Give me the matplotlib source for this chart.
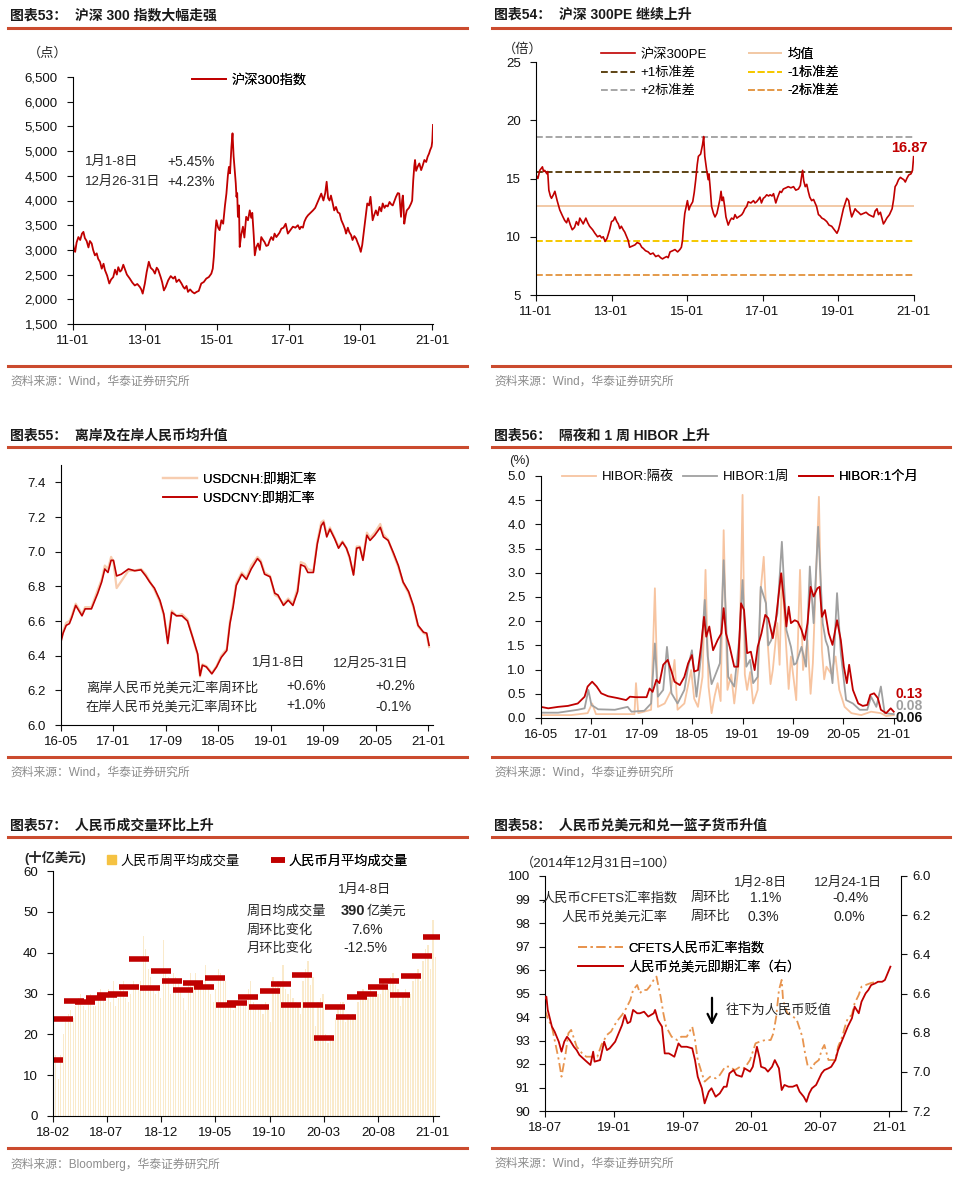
import numpy as np
import pandas as pd
import matplotlib
matplotlib.use('Agg')
import matplotlib.pyplot as plt
from matplotlib.lines import Line2D
from matplotlib.patches import Patch

plt.rcParams['font.family'] = ['Liberation Sans', 'Noto Sans CJK SC']
plt.rcParams['axes.unicode_minus'] = False

# ---------------- data ----------------
# 图表53 沪深300指数 (decimal year, points)
hs300_t = [2011.00, 2011.03, 2011.06, 2011.10, 2011.15, 2011.20, 2011.25, 2011.29, 2011.33, 2011.38,
           2011.43, 2011.47, 2011.52, 2011.56, 2011.61, 2011.66, 2011.70, 2011.75, 2011.80, 2011.85,
           2011.89, 2011.95, 2012.01, 2012.06, 2012.12, 2012.17, 2012.22, 2012.26, 2012.31, 2012.35,
           2012.40, 2012.44, 2012.50, 2012.58, 2012.65, 2012.72, 2012.79, 2012.86, 2012.90, 2012.94,
           2013.00, 2013.05, 2013.11, 2013.16, 2013.23, 2013.28, 2013.33, 2013.37, 2013.44, 2013.48,
           2013.53, 2013.58, 2013.65, 2013.72, 2013.79, 2013.84, 2013.88, 2013.95, 2014.02, 2014.07,
           2014.11, 2014.16, 2014.20, 2014.26, 2014.32, 2014.38, 2014.44, 2014.50, 2014.57, 2014.64,
           2014.71, 2014.78, 2014.85, 2014.89, 2014.92, 2014.96, 2014.99, 2015.04, 2015.08, 2015.13,
           2015.18, 2015.23, 2015.27, 2015.31, 2015.34, 2015.37, 2015.41, 2015.44, 2015.47, 2015.50,
           2015.53, 2015.55, 2015.57, 2015.59, 2015.62, 2015.64, 2015.68, 2015.73, 2015.77, 2015.82,
           2015.87, 2015.92, 2015.96, 2015.99, 2016.03, 2016.06, 2016.10, 2016.15, 2016.20, 2016.24,
           2016.29, 2016.33, 2016.38, 2016.43, 2016.48, 2016.52, 2016.57, 2016.61, 2016.66, 2016.70,
           2016.75, 2016.80, 2016.86, 2016.92, 2016.98, 2017.05, 2017.12, 2017.19, 2017.26, 2017.31,
           2017.35, 2017.40, 2017.44, 2017.49, 2017.54, 2017.61, 2017.68, 2017.74, 2017.81, 2017.86,
           2017.91, 2017.97, 2018.02, 2018.06, 2018.10, 2018.14, 2018.18, 2018.23, 2018.27, 2018.32,
           2018.37, 2018.42, 2018.47, 2018.53, 2018.57, 2018.60, 2018.65, 2018.69, 2018.74, 2018.78,
           2018.83, 2018.88, 2018.92, 2018.97, 2019.01, 2019.05, 2019.10, 2019.15, 2019.19, 2019.24,
           2019.28, 2019.31, 2019.34, 2019.38, 2019.43, 2019.48, 2019.53, 2019.58, 2019.62, 2019.67,
           2019.71, 2019.76, 2019.81, 2019.86, 2019.90, 2019.95, 2019.99, 2020.04, 2020.08, 2020.13,
           2020.16, 2020.18, 2020.20, 2020.22, 2020.26, 2020.29, 2020.35, 2020.41, 2020.44, 2020.47,
           2020.50, 2020.52, 2020.55, 2020.59, 2020.64, 2020.69, 2020.73, 2020.78, 2020.83, 2020.87,
           2020.91, 2020.94, 2020.98, 2021.00, 2021.02]
hs300_v = [3130, 3010, 2960, 3150, 3260, 3200, 3330, 3365, 3240, 3180,
           3050, 3180, 3130, 3000, 2890, 2930, 2820, 2760, 2620, 2720,
           2590, 2480, 2320, 2400, 2450, 2600, 2500, 2650, 2560, 2590,
           2700, 2620, 2500, 2420, 2340, 2280, 2310, 2250, 2200, 2115,
           2320, 2550, 2760, 2640, 2590, 2520, 2640, 2600, 2450, 2350,
           2180, 2250, 2385, 2470, 2420, 2460, 2350, 2400, 2320, 2250,
           2215, 2270, 2150, 2200, 2150, 2120, 2150, 2170, 2320, 2350,
           2420, 2450, 2520, 2620, 2860, 3350, 3600, 3450, 3400, 3600,
           3530, 3900, 4140, 4500, 4680, 4550, 5090, 5360, 4900, 4615,
           4350, 4075, 4150, 3670, 3900, 3060, 3300, 3470, 3250, 3670,
           3600, 3800, 3650, 3750, 3300, 2890, 3050, 3130, 3000, 3260,
           3200, 3160, 3080, 3095, 3200, 3260, 3200, 3330, 3260, 3300,
           3350, 3430, 3450, 3530, 3330, 3400, 3470, 3450, 3500, 3420,
           3470, 3450, 3570, 3650, 3700, 3750, 3800, 3850, 3970, 4050,
           4140, 4000, 4150, 4380, 4050, 4000, 4100, 3940, 3800, 3870,
           3760, 3740, 3600, 3500, 3420, 3330, 3450, 3360, 3300, 3200,
           3280, 3230, 3150, 3060, 2960, 3100, 3400, 3700, 3940, 3900,
           4075, 3850, 3600, 3700, 3800, 3700, 3870, 3780, 3940, 3850,
           3900, 3880, 3970, 3920, 3900, 4000, 4075, 4150, 4140, 3670,
           4000, 4100, 3900, 3530, 3700, 3800, 3850, 3940, 4000, 4410,
           4700, 4820, 4600, 4680, 4750, 4615, 4700, 4820, 4780, 4885,
           4950, 5020, 5090, 5200, 5530]

# 图表54 沪深300PE
pe_t = [2011.00, 2011.05, 2011.10, 2011.17, 2011.20, 2011.23, 2011.29, 2011.31, 2011.34, 2011.38,
        2011.41, 2011.46, 2011.50, 2011.56, 2011.63, 2011.70, 2011.76, 2011.81, 2011.85, 2011.91,
        2011.96, 2012.02, 2012.07, 2012.12, 2012.16, 2012.25, 2012.32, 2012.37, 2012.42, 2012.50,
        2012.56, 2012.63, 2012.69, 2012.74, 2012.78, 2012.83, 2012.88, 2012.95, 2013.00, 2013.05,
        2013.09, 2013.14, 2013.18, 2013.22, 2013.26, 2013.31, 2013.35, 2013.40, 2013.44, 2013.48,
        2013.55, 2013.62, 2013.68, 2013.75, 2013.80, 2013.84, 2013.90, 2013.97, 2014.03, 2014.10,
        2014.17, 2014.24, 2014.30, 2014.35, 2014.40, 2014.46, 2014.50, 2014.55, 2014.62, 2014.68,
        2014.75, 2014.81, 2014.85, 2014.88, 2014.91, 2014.94, 2015.01, 2015.05, 2015.08, 2015.15,
        2015.19, 2015.23, 2015.27, 2015.30, 2015.36, 2015.41, 2015.44, 2015.47, 2015.52, 2015.56,
        2015.58, 2015.61, 2015.65, 2015.70, 2015.74, 2015.79, 2015.83, 2015.87, 2015.90, 2015.93,
        2015.96, 2016.00, 2016.03, 2016.09, 2016.14, 2016.18, 2016.23, 2016.27, 2016.32, 2016.36,
        2016.41, 2016.45, 2016.49, 2016.53, 2016.58, 2016.62, 2016.69, 2016.76, 2016.80, 2016.84,
        2016.89, 2016.93, 2016.97, 2017.02, 2017.06, 2017.11, 2017.16, 2017.20, 2017.25, 2017.29,
        2017.35, 2017.40, 2017.46, 2017.50, 2017.55, 2017.62, 2017.68, 2017.75, 2017.82, 2017.88,
        2017.95, 2018.00, 2018.02, 2018.06, 2018.09, 2018.13, 2018.17, 2018.21, 2018.25, 2018.30,
        2018.35, 2018.39, 2018.43, 2018.48, 2018.52, 2018.57, 2018.63, 2018.70, 2018.76, 2018.83,
        2018.90, 2018.97, 2019.01, 2019.05, 2019.10, 2019.14, 2019.19, 2019.23, 2019.28, 2019.32,
        2019.36, 2019.40, 2019.45, 2019.50, 2019.54, 2019.60, 2019.67, 2019.74, 2019.81, 2019.87,
        2019.94, 2019.98, 2020.03, 2020.07, 2020.12, 2020.16, 2020.20, 2020.24, 2020.29, 2020.36,
        2020.43, 2020.47, 2020.51, 2020.55, 2020.60, 2020.65, 2020.69, 2020.74, 2020.78, 2020.82,
        2020.87, 2020.93, 2020.97, 2021.00]
pe_v = [15.3, 15.0, 15.7, 16.0, 15.6, 15.7, 15.4, 15.6, 14.0, 13.5,
        13.3, 13.6, 13.9, 13.1, 12.3, 11.8, 11.4, 11.2, 11.6, 11.0,
        10.6, 10.8, 11.3, 11.0, 11.6, 11.1, 11.6, 11.2, 10.9, 10.6,
        10.3, 10.0, 10.1, 9.9, 10.0, 9.6, 9.85, 10.6, 11.3, 11.4,
        11.7, 11.3, 11.1, 10.7, 10.9, 10.6, 10.4, 10.0, 9.7, 9.1,
        9.2, 9.3, 9.5, 9.4, 9.1, 9.0, 8.8, 8.7, 8.5, 8.6,
        8.3, 8.4, 8.2, 8.1, 8.2, 8.3, 8.2, 8.7, 8.8, 8.9,
        8.7, 8.9, 9.1, 9.7, 11.0, 12.0, 13.1, 12.3, 12.6, 13.0,
        13.8, 14.9, 16.2, 16.9, 17.1, 17.9, 18.6, 16.9, 15.7, 14.9,
        15.4, 14.3, 12.6, 12.0, 11.7, 12.0, 12.6, 13.2, 13.9, 13.1,
        13.4, 12.5, 11.7, 11.0, 11.4, 11.6, 11.5, 11.9, 11.6, 11.7,
        11.8, 11.9, 12.1, 12.4, 12.6, 13.0, 12.9, 13.1, 12.9, 13.0,
        13.2, 13.4, 12.9, 13.3, 13.4, 13.6, 13.5, 13.6, 13.5, 13.7,
        12.9, 13.4, 13.9, 13.8, 14.1, 14.2, 14.3, 14.2, 14.3, 14.0,
        14.1, 14.4, 14.9, 15.7, 14.8, 14.3, 14.5, 13.9, 13.4, 13.1,
        13.2, 12.9, 12.6, 11.9, 11.8, 11.6, 11.5, 11.3, 11.0, 10.9,
        10.6, 10.3, 10.6, 11.1, 11.8, 12.4, 12.9, 13.3, 13.1, 12.3,
        11.7, 12.0, 12.4, 12.2, 12.1, 11.9, 12.0, 12.1, 11.9, 11.8,
        11.7, 12.2, 12.4, 11.9, 12.1, 11.6, 11.1, 11.3, 11.6, 11.9,
        12.4, 13.2, 14.3, 14.5, 14.9, 15.1, 15.0, 14.9, 14.7, 15.0,
        15.3, 15.4, 15.7, 16.87]
pe_band_names = ['均值', '+1标准差', '+2标准差', '-1标准差', '-2标准差']
pe_band_vals = [12.63, 15.57, 18.57, 9.66, 6.74]

# 图表55 USDCNH / USDCNY
fx_t = [2016.333, 2016.36, 2016.40, 2016.44, 2016.47, 2016.52, 2016.56, 2016.60, 2016.64, 2016.72,
        2016.80, 2016.85, 2016.89, 2016.93, 2016.97, 2017.00, 2017.04, 2017.10, 2017.19, 2017.27,
        2017.35, 2017.41, 2017.46, 2017.52, 2017.59, 2017.64, 2017.69, 2017.74, 2017.80, 2017.87,
        2017.94, 2018.01, 2018.07, 2018.10, 2018.13, 2018.18, 2018.25, 2018.31, 2018.37, 2018.44,
        2018.48, 2018.52, 2018.56, 2018.63, 2018.69, 2018.75, 2018.83, 2018.87, 2018.92, 2018.99,
        2019.05, 2019.09, 2019.16, 2019.22, 2019.28, 2019.34, 2019.38, 2019.43, 2019.47, 2019.54,
        2019.59, 2019.64, 2019.67, 2019.71, 2019.75, 2019.81, 2019.86, 2019.91, 2019.96, 2020.00,
        2020.05, 2020.09, 2020.13, 2020.17, 2020.22, 2020.26, 2020.32, 2020.39, 2020.43, 2020.49,
        2020.56, 2020.62, 2020.68, 2020.75, 2020.81, 2020.87, 2020.94, 2020.98, 2021.01]
usdcny = [6.48, 6.53, 6.575, 6.585, 6.62, 6.69, 6.66, 6.63, 6.67, 6.67,
          6.76, 6.825, 6.90, 6.88, 6.95, 6.95, 6.86, 6.87, 6.90, 6.89,
          6.895, 6.86, 6.825, 6.79, 6.72, 6.64, 6.47, 6.65, 6.63, 6.63,
          6.60, 6.50, 6.41, 6.285, 6.345, 6.335, 6.295, 6.335, 6.39, 6.43,
          6.585, 6.68, 6.805, 6.87, 6.84, 6.90, 6.96, 6.94, 6.87, 6.855,
          6.76, 6.75, 6.69, 6.72, 6.69, 6.77, 6.925, 6.915, 6.88, 6.88,
          7.045, 7.15, 7.17, 7.085, 7.13, 7.075, 7.02, 7.055, 7.02, 6.97,
          6.865, 7.02, 7.025, 6.95, 7.095, 7.065, 7.095, 7.14, 7.085, 7.065,
          6.99, 6.92, 6.825, 6.77, 6.69, 6.575, 6.535, 6.53, 6.46]
usdcnh = [6.50, 6.54, 6.59, 6.60, 6.63, 6.70, 6.67, 6.64, 6.68, 6.68,
          6.78, 6.84, 6.92, 6.90, 6.97, 6.94, 6.79, 6.83, 6.89, 6.89,
          6.90, 6.87, 6.83, 6.78, 6.71, 6.63, 6.50, 6.66, 6.63, 6.64,
          6.61, 6.50, 6.40, 6.28, 6.35, 6.34, 6.30, 6.34, 6.40, 6.44,
          6.60, 6.70, 6.82, 6.88, 6.85, 6.92, 6.97, 6.95, 6.88, 6.86,
          6.75, 6.74, 6.70, 6.73, 6.70, 6.79, 6.94, 6.93, 6.90, 6.89,
          7.06, 7.17, 7.18, 7.10, 7.14, 7.08, 7.03, 7.06, 7.02, 6.96,
          6.87, 7.03, 7.03, 6.96, 7.11, 7.08, 7.11, 7.16, 7.10, 7.07,
          6.98, 6.91, 6.82, 6.76, 6.68, 6.57, 6.53, 6.52, 6.45]

# 图表56 HIBOR (%)
hibor_on_t = [2016.333, 2016.73, 2016.95, 2017.01, 2017.06, 2017.30, 2017.57, 2017.59, 2017.62, 2017.79,
              2017.84, 2017.88, 2017.97, 2018.05, 2018.10, 2018.14, 2018.23, 2018.32, 2018.36, 2018.41,
              2018.47, 2018.51, 2018.55, 2018.59, 2018.63, 2018.67, 2018.71, 2018.75, 2018.80, 2018.85,
              2018.89, 2018.96, 2019.00, 2019.03, 2019.06, 2019.10, 2019.14, 2019.20, 2019.24, 2019.28,
              2019.33, 2019.37, 2019.40, 2019.46, 2019.49, 2019.52, 2019.58, 2019.61, 2019.64, 2019.71,
              2019.76, 2019.80, 2019.86, 2019.90, 2019.93, 2020.01, 2020.05, 2020.08, 2020.11, 2020.17,
              2020.23, 2020.28, 2020.35, 2020.44, 2020.57, 2020.70, 2020.83, 2020.90, 2021.00]
hibor_on_v = [0.06, 0.06, 0.10, 0.30, 0.08, 0.08, 0.08, 0.72, 0.10, 0.17,
              2.68, 0.23, 0.30, 0.55, 1.20, 0.17, 0.30, 0.99, 0.40, 0.23,
              0.85, 3.06, 0.65, 0.10, 0.45, 0.72, 0.35, 3.88, 0.58, 0.90,
              0.30, 1.27, 4.61, 0.90, 0.58, 0.95, 0.30, 0.58, 2.64, 3.33,
              1.61, 0.70, 0.99, 1.96, 1.10, 2.99, 1.40, 0.60, 1.27, 0.37,
              3.06, 0.99, 1.61, 0.50, 1.13, 4.57, 1.40, 0.80, 1.06, 0.92,
              1.27, 0.58, 0.23, 0.10, 0.06, 0.13, 0.10, 0.04, 0.06]
hibor_1w_t = [2016.333, 2016.56, 2016.82, 2016.91, 2016.96, 2017.00, 2017.09, 2017.31, 2017.48, 2017.53,
              2017.70, 2017.79, 2017.84, 2017.88, 2017.95, 2018.00, 2018.06, 2018.14, 2018.23, 2018.28,
              2018.33, 2018.39, 2018.45, 2018.50, 2018.54, 2018.59, 2018.63, 2018.70, 2018.75, 2018.81,
              2018.89, 2018.96, 2019.00, 2019.05, 2019.10, 2019.14, 2019.20, 2019.24, 2019.31, 2019.34,
              2019.38, 2019.46, 2019.52, 2019.58, 2019.64, 2019.68, 2019.71, 2019.78, 2019.84, 2019.89,
              2019.94, 2020.00, 2020.06, 2020.10, 2020.13, 2020.19, 2020.25, 2020.30, 2020.37, 2020.46,
              2020.55, 2020.65, 2020.70, 2020.77, 2020.83, 2020.88, 2021.00]
hibor_1w_v = [0.11, 0.11, 0.17, 0.20, 0.58, 0.27, 0.18, 0.17, 0.23, 0.13,
              0.15, 0.30, 1.54, 0.44, 0.58, 1.47, 0.51, 0.30, 0.58, 1.06,
              1.40, 0.44, 1.27, 2.44, 1.27, 0.70, 0.85, 1.13, 3.26, 0.85,
              0.65, 1.68, 2.85, 1.06, 1.20, 0.72, 0.85, 2.71, 2.37, 1.50,
              1.61, 2.16, 3.64, 1.82, 1.47, 1.10, 1.13, 1.47, 1.06, 3.13,
              1.96, 3.95, 1.96, 1.60, 1.47, 0.72, 2.58, 1.34, 0.37, 0.30,
              0.17, 0.17, 0.44, 0.23, 0.65, 0.10, 0.08]
hibor_1m_t = [2016.333, 2016.43, 2016.56, 2016.69, 2016.82, 2016.91, 2016.95, 2017.01, 2017.07, 2017.13,
              2017.22, 2017.35, 2017.46, 2017.51, 2017.59, 2017.73, 2017.77, 2017.81, 2017.86, 2017.90,
              2017.95, 2018.01, 2018.06, 2018.10, 2018.17, 2018.23, 2018.28, 2018.33, 2018.36, 2018.41,
              2018.45, 2018.49, 2018.52, 2018.56, 2018.61, 2018.67, 2018.72, 2018.75, 2018.78, 2018.83,
              2018.89, 2018.94, 2018.98, 2019.02, 2019.06, 2019.11, 2019.16, 2019.20, 2019.25, 2019.30,
              2019.34, 2019.40, 2019.44, 2019.48, 2019.51, 2019.55, 2019.58, 2019.61, 2019.64, 2019.69,
              2019.73, 2019.78, 2019.82, 2019.86, 2019.90, 2019.94, 2019.99, 2020.02, 2020.05, 2020.09,
              2020.14, 2020.19, 2020.25, 2020.30, 2020.34, 2020.38, 2020.41, 2020.46, 2020.53, 2020.59,
              2020.65, 2020.69, 2020.74, 2020.79, 2020.83, 2020.90, 2020.96, 2021.00]
hibor_1m_v = [0.23, 0.20, 0.23, 0.25, 0.30, 0.44, 0.65, 0.75, 0.65, 0.51,
              0.45, 0.41, 0.37, 0.44, 0.43, 0.43, 0.61, 0.54, 0.79, 0.72,
              1.10, 1.20, 0.96, 0.75, 0.68, 0.85, 1.13, 1.30, 0.96, 0.99,
              1.47, 2.09, 1.68, 1.89, 1.40, 1.61, 1.75, 2.27, 1.75, 1.47,
              1.06, 1.06, 2.37, 2.23, 1.34, 1.37, 0.99, 1.47, 1.75, 2.13,
              2.06, 1.65, 2.02, 2.58, 2.99, 2.40, 1.89, 2.30, 1.96, 2.02,
              1.99, 1.82, 1.61, 1.96, 2.71, 2.51, 2.68, 2.71, 2.09, 2.23,
              1.75, 1.51, 2.02, 1.61, 1.06, 0.72, 1.10, 0.58, 0.30, 0.25,
              0.27, 0.48, 0.51, 0.41, 0.17, 0.10, 0.20, 0.13]
hibor_last = ['0.13', '0.08', '0.06']

# 图表57 人民币成交量 (十亿美元)
cny_week_vol = [16, 15, 9, 15, 20, 23, 25, 26, 24, 27, 29, 30, 27, 26, 28, 30, 27,
                27, 29, 31, 30, 28, 31, 28, 33, 27, 29, 31, 33, 29, 28, 30, 33, 32, 31,
                33, 44, 41, 36, 34, 31, 30, 32, 29, 43, 36, 34, 30,
                35, 34, 33, 31, 29, 26, 33, 35, 33, 35, 31, 32, 32, 37, 31, 30, 28,
                31, 36, 35, 34, 33, 28, 27, 26, 28, 29, 27, 28, 27, 31, 33, 28, 27, 27,
                27, 25, 28, 26, 23, 34, 32, 33, 33, 37, 31, 30, 31, 29, 28, 27, 25,
                33, 36, 38, 32, 34, 22, 28, 29, 30, 20, 18, 19, 19, 24, 27, 28, 28,
                23, 25, 24, 25, 24, 28, 29, 31, 29, 29, 31, 30, 30, 30, 30, 33, 32, 31,
                34, 35, 32, 31, 27, 30, 31, 30, 30, 33, 35, 36, 33, 38, 41, 42, 36,
                48, 39]
cny_month_vol = [13.7, 23.7, 28.2, 27.8, 28.8, 29.6, 30.0, 31.5, 38.4, 31.3, 35.6,
                 33.1, 30.9, 32.5, 31.5, 33.7, 27.2, 27.6, 29.1, 26.6, 30.7, 32.3, 27.2,
                 34.5, 27.2, 19.0, 26.8, 24.3, 29.2, 30.0, 31.5, 33.0, 29.6, 34.2, 39.1,
                 43.8]

# 图表58 CFETS指数(左) / USDCNY(右)
cfets_t = [2018.50, 2018.52, 2018.55, 2018.58, 2018.60, 2018.62, 2018.65, 2018.67, 2018.69, 2018.73,
           2018.77, 2018.80, 2018.84, 2018.88, 2018.91, 2018.95, 2018.98, 2019.02, 2019.06, 2019.09,
           2019.12, 2019.14, 2019.17, 2019.19, 2019.21, 2019.24, 2019.26, 2019.29, 2019.31, 2019.34,
           2019.36, 2019.38, 2019.42, 2019.46, 2019.49, 2019.53, 2019.57, 2019.59, 2019.61, 2019.64,
           2019.66, 2019.70, 2019.74, 2019.77, 2019.81, 2019.84, 2019.88, 2019.92, 2019.95, 2019.99,
           2020.03, 2020.06, 2020.10, 2020.14, 2020.16, 2020.18, 2020.20, 2020.22, 2020.23, 2020.26,
           2020.29, 2020.33, 2020.37, 2020.39, 2020.41, 2020.44, 2020.46, 2020.49, 2020.51, 2020.53,
           2020.56, 2020.58, 2020.61, 2020.63, 2020.66, 2020.68, 2020.70, 2020.73, 2020.75, 2020.78,
           2020.80, 2020.83, 2020.87, 2020.92]
cfets_v = [94.30, 93.94, 93.59, 92.74, 92.17, 91.46, 92.45, 93.31, 93.45, 92.74,
           92.45, 92.31, 92.31, 92.31, 92.81, 93.24, 93.38, 93.80, 94.09, 94.37,
           94.72, 95.15, 95.36, 95.01, 95.15, 95.15, 95.29, 95.58, 95.72, 94.87,
           94.16, 93.59, 93.16, 93.02, 93.16, 93.16, 93.59, 93.02, 92.17, 91.60,
           91.25, 91.46, 91.39, 91.53, 91.89, 91.89, 91.74, 91.89, 91.82, 92.17,
           92.88, 92.95, 93.02, 93.02, 93.31, 94.01, 95.15, 95.58, 94.72, 94.16,
           94.09, 93.87, 93.16, 92.45, 91.89, 91.82, 92.03, 92.17, 92.59, 92.81,
           92.17, 92.17, 92.17, 92.74, 93.16, 93.59, 93.94, 94.09, 94.58, 94.94,
           95.29, 95.36, 95.45, 95.50]
cny_t = [2018.500, 2018.51, 2018.52, 2018.55, 2018.57, 2018.60, 2018.62, 2018.64, 2018.66, 2018.68,
         2018.71, 2018.73, 2018.75, 2018.79, 2018.83, 2018.85, 2018.86, 2018.90, 2018.93, 2018.95,
         2018.97, 2019.01, 2019.03, 2019.06, 2019.08, 2019.10, 2019.12, 2019.14, 2019.17, 2019.19,
         2019.22, 2019.25, 2019.29, 2019.30, 2019.32, 2019.35, 2019.37, 2019.40, 2019.42, 2019.44,
         2019.47, 2019.49, 2019.53, 2019.57, 2019.59, 2019.61, 2019.64, 2019.66, 2019.69, 2019.71,
         2019.74, 2019.77, 2019.80, 2019.82, 2019.84, 2019.87, 2019.89, 2019.93, 2019.95, 2019.99,
         2020.01, 2020.04, 2020.06, 2020.07, 2020.10, 2020.12, 2020.15, 2020.17, 2020.20, 2020.22,
         2020.24, 2020.27, 2020.30, 2020.33, 2020.35, 2020.38, 2020.40, 2020.42, 2020.44, 2020.47,
         2020.51, 2020.53, 2020.56, 2020.58, 2020.61, 2020.63, 2020.66, 2020.68, 2020.70, 2020.73,
         2020.75, 2020.78, 2020.80, 2020.83, 2020.85, 2020.87, 2020.90, 2020.92, 2020.95, 2020.97,
         2020.99, 2021.01]
cny_v = [6.625, 6.616, 6.684, 6.769, 6.795, 6.846, 6.897, 6.846, 6.821, 6.838,
         6.872, 6.889, 6.914, 6.940, 6.965, 6.897, 6.948, 6.940, 6.846, 6.889,
         6.880, 6.846, 6.812, 6.761, 6.710, 6.752, 6.744, 6.684, 6.701, 6.701,
         6.693, 6.718, 6.701, 6.684, 6.735, 6.769, 6.906, 6.906, 6.914, 6.923,
         6.855, 6.872, 6.872, 6.880, 6.940, 7.025, 7.084, 7.161, 7.101, 7.084,
         7.127, 7.110, 7.076, 7.076, 7.008, 6.991, 7.016, 7.025, 6.982, 6.999,
         6.974, 6.872, 6.931, 6.974, 6.982, 6.999, 6.974, 6.940, 6.982, 7.093,
         7.067, 7.076, 7.076, 7.067, 7.101, 7.127, 7.153, 7.110, 7.084, 7.067,
         7.008, 6.991, 6.982, 6.974, 6.940, 6.889, 6.838, 6.804, 6.769, 6.727,
         6.667, 6.701, 6.642, 6.599, 6.582, 6.557, 6.548, 6.540, 6.540, 6.531,
         6.497, 6.463]

# ---------------- layout helpers ----------------
W, H = 958, 1182
RED = '#C00000'
RULE = '#CB4B2E'
SRC = '资料来源：Wind，华泰证券研究所'

fig = plt.figure(figsize=(W / 100, H / 100), dpi=100)


def fx(x):
    return x / W


def fy(y):
    return 1 - y / H


def put(x, y, s, **kw):
    kw.setdefault('fontsize', 9.5)
    kw.setdefault('va', 'center')
    kw.setdefault('color', '#262626')
    fig.text(fx(x), fy(y), s, **kw)


def make_ax(l, t, r, b):
    ax = fig.add_axes([fx(l), fy(b), (r - l) / W, (b - t) / H])
    ax.spines['top'].set_visible(False)
    ax.spines['right'].set_visible(False)
    for s in ['left', 'bottom']:
        ax.spines[s].set_linewidth(0.8)
    ax.tick_params(labelsize=9.5, length=4, width=0.8, direction='out', colors='#111111')
    ax.tick_params(axis='y', pad=7)
    ax.tick_params(axis='x', pad=4)
    ax.patch.set_alpha(0)
    return ax


def frame(x0, x1, y_title, y_top, y_bot, y_src, title, src=SRC):
    put(x0 + 2, y_title, title, fontsize=10, fontweight='bold', color='#1a1a1a')
    for yy in (y_top, y_bot):
        fig.add_artist(Line2D([fx(x0), fx(x1)], [fy(yy), fy(yy)], color=RULE, lw=2.2))
    put(x0 + 2, y_src, src, fontsize=8.5, color='#8C8C8C')


def legend_at(ax, handles, labels, x, y, **kw):
    opts = dict(loc='center left', bbox_to_anchor=(fx(x), fy(y)), bbox_transform=fig.transFigure,
                frameon=False, fontsize=9.5, handlelength=2.6, handletextpad=0.4,
                borderpad=0, borderaxespad=0, labelspacing=0.45)
    opts.update(kw)
    lg = ax.legend(handles, labels, **opts)
    ax.add_artist(lg)
    return lg


yr_ticks_a = [2011, 2013, 2015, 2017, 2019, 2021]
yr_labels_a = ['11-01', '13-01', '15-01', '17-01', '19-01', '21-01']
yr_ticks_b = [2016 + 4 / 12, 2017, 2017 + 8 / 12, 2018 + 4 / 12, 2019, 2019 + 8 / 12, 2020 + 4 / 12, 2021]
yr_labels_b = ['16-05', '17-01', '17-09', '18-05', '19-01', '19-09', '20-05', '21-01']

# ---------------- 图表53 ----------------
frame(8, 467, 15, 28, 366, 382, '图表53：  沪深 300 指数大幅走强')
ax1 = make_ax(73, 77, 433, 324)
l53, = ax1.plot(hs300_t, hs300_v, color=RED, lw=1.3)
ax1.set_xlim(2011, 2021.02)
ax1.set_ylim(1500, 6500)
ax1.set_yticks(np.arange(1500, 6501, 500))
ax1.set_yticklabels([f'{v:,.0f}' for v in np.arange(1500, 6501, 500)])
ax1.set_xticks(yr_ticks_a)
ax1.set_xticklabels(yr_labels_a)
legend_at(ax1, [l53], ['沪深300指数'], 192, 80)
put(28, 53, '（点）')
put(85, 162, '1月1-8日')
put(167, 162, '+5.45%', fontsize=10)
put(85, 182, '12月26-31日')
put(167, 182, '+4.23%', fontsize=10)

# ---------------- 图表54 ----------------
frame(492, 950, 15, 28, 366, 382, '图表54：  沪深 300PE 继续上升')
ax2 = make_ax(536, 62, 914, 295)
band_colors = ['#F2C9A6', '#5E4314', '#A6A6A6', '#F5C800', '#E49A4A']
band_styles = ['-', (0, (3.5, 1.5)), (0, (3.5, 1.5)), (0, (3.5, 1.5)), (0, (3.5, 1.5))]
bands = []
for v, c, ls in zip(pe_band_vals, band_colors, band_styles):
    bands.append(ax2.hlines(v, pe_t[0], pe_t[-1], colors=c, linestyles=ls, lw=1.4))
l54, = ax2.plot(pe_t, pe_v, color=RED, lw=1.2)
ax2.set_xlim(2011, 2021.01)
ax2.set_ylim(5, 25)
ax2.set_yticks([5, 10, 15, 20, 25])
ax2.set_xticks(yr_ticks_a)
ax2.set_xticklabels(yr_labels_a)
legend_at(ax2, [l54, bands[1], bands[2]], ['沪深300PE', pe_band_names[1], pe_band_names[2]], 601, 73)
legend_at(ax2, [bands[0], bands[3], bands[4]], [pe_band_names[0], pe_band_names[3], pe_band_names[4]], 748, 73)
put(503, 49, '（倍）')
put(909, 148, f'{pe_v[-1]:.2f}', ha='center', color=RED, fontweight='bold', fontsize=10.5)

# ---------------- 图表55 ----------------
frame(8, 467, 436, 447, 757, 773, '图表55：  离岸及在岸人民币均升值')
ax3 = make_ax(61, 465, 433, 725)
lcnh, = ax3.plot(fx_t, usdcnh, color='#F7CDB0', lw=1.6)
lcny, = ax3.plot(fx_t, usdcny, color=RED, lw=1.2)
ax3.set_xlim(2016 + 4 / 12, 2021.06)
ax3.set_ylim(6.0, 7.5)
ax3.set_yticks(np.arange(6.0, 7.41, 0.2))
ax3.set_yticklabels([f'{v:.1f}' for v in np.arange(6.0, 7.41, 0.2)])
ax3.set_xticks(yr_ticks_b)
ax3.set_xticklabels(yr_labels_b)
legend_at(ax3, [lcnh, lcny], ['USDCNH:即期汇率', 'USDCNY:即期汇率'], 163, 489, labelspacing=0.5)
put(252, 663, '1月1-8日')
put(333, 664, '12月25-31日')
put(86, 688, '离岸人民币兑美元汇率周环比')
put(286, 686, '+0.6%', fontsize=10)
put(375, 686, '+0.2%', fontsize=10)
put(86, 707, '在岸人民币兑美元汇率周环比')
put(286, 705, '+1.0%', fontsize=10)
put(375, 707, '-0.1%', fontsize=10)

# ---------------- 图表56 ----------------
frame(492, 950, 436, 447, 757, 773, '图表56：  隔夜和 1 周 HIBOR 上升')
ax4 = make_ax(541, 476, 896, 718)
lon, = ax4.plot(hibor_on_t, hibor_on_v, color='#F7C4A0', lw=1.3)
l1w, = ax4.plot(hibor_1w_t, hibor_1w_v, color='#A0A0A0', lw=1.3)
l1m, = ax4.plot(hibor_1m_t, hibor_1m_v, color=RED, lw=1.3)
ax4.set_xlim(2016 + 4 / 12, 2021.03)
ax4.set_ylim(0, 5)
ax4.set_yticks(np.arange(0, 5.01, 0.5))
ax4.set_yticklabels([f'{v:.1f}' for v in np.arange(0, 5.01, 0.5)])
ax4.set_xticks(yr_ticks_b)
ax4.set_xticklabels(yr_labels_b)
legend_at(ax4, [lon], ['HIBOR:隔夜'], 562, 477)
legend_at(ax4, [l1w], ['HIBOR:1周'], 683, 477)
legend_at(ax4, [l1m], ['HIBOR:1个月'], 799, 477)
put(509, 461, '(%)')
for lab, yy, c in zip(hibor_last, [694, 706, 718], [RED, '#A0A0A0', '#111111']):
    put(895, yy, lab, color=c, fontweight='bold', fontsize=10)

# ---------------- 图表57 ----------------
frame(8, 467, 826, 837, 1148, 1164, '图表57：  人民币成交量环比上升',
      src='资料来源：Bloomberg，华泰证券研究所')
ax5 = make_ax(53, 871, 439, 1116)
weeks = pd.date_range('2018-02-02', periods=len(cny_week_vol), freq='7D')
months = pd.date_range('2018-02-01', periods=len(cny_month_vol), freq='MS')
ax5.bar(weeks, cny_week_vol, width=3.5, color='#FAEACB', lw=0)
lm, = ax5.plot(months, cny_month_vol, ls='none', marker='_', ms=14, mew=4, color=RED)
ax5.set_xlim(pd.Timestamp('2018-02-01'), pd.Timestamp('2021-01-18'))
ax5.set_ylim(0, 60)
ax5.set_yticks(np.arange(0, 61, 10))
tick57 = ['2018-02-01', '2018-07-01', '2018-12-01', '2019-05-01', '2019-10-01', '2020-03-01',
          '2020-08-01', '2021-01-01']
ax5.set_xticks(pd.to_datetime(tick57))
ax5.set_xticklabels([t[2:7] for t in tick57])
legend_at(ax5, [Patch(color='#F5C242')], ['人民币周平均成交量'], 107, 861,
          handlelength=0.7, handleheight=0.7, handletextpad=0.3)
legend_at(ax5, [Line2D([], [], ls='none', marker='_', ms=10, mew=4, color=RED)], ['人民币月平均成交量'],
          271, 861, handlelength=1.0, handletextpad=0.3)
put(24, 858, '(十亿美元)', fontweight='bold')
put(338, 890, '1月4-8日')
put(247, 911, '周日均成交量')
put(341, 911, '390', fontweight='bold', fontsize=10.5)
put(367, 911, '亿美元')
put(247, 930, '周环比变化')
put(351, 930, '7.6%', fontsize=10)
put(247, 948, '月环比变化')
put(343, 948, '-12.5%', fontsize=10)

# ---------------- 图表58 ----------------
frame(492, 950, 826, 837, 1148, 1164, '图表58：  人民币兑美元和兑一篮子货币升值')
ax6 = make_ax(545, 876, 901, 1111)
lcf, = ax6.plot(cfets_t, cfets_v, color='#E8944E', lw=1.3, ls=(0, (5, 2, 1.2, 2)))
ax6.set_xlim(2018.5, 2021.087)
ax6.set_ylim(90, 100)
ax6.set_yticks(np.arange(90, 101, 1))
ax6.set_xticks([2018.5, 2019, 2019.5, 2020, 2020.5, 2021])
ax6.set_xticklabels(['18-07', '19-01', '19-07', '20-01', '20-07', '21-01'])
ax6r = ax6.twinx()
ax6r.spines['top'].set_visible(False)
ax6r.spines['left'].set_visible(False)
ax6r.spines['bottom'].set_visible(False)
ax6r.spines['right'].set_linewidth(0.8)
lcny2, = ax6r.plot(cny_t, cny_v, color=RED, lw=1.3)
ax6r.set_ylim(7.2, 6.0)
ax6r.set_yticks(np.arange(6.0, 7.21, 0.2))
ax6r.set_yticklabels([f'{v:.1f}' for v in np.arange(6.0, 7.21, 0.2)])
ax6r.tick_params(labelsize=9.5, length=4, width=0.8, direction='out', pad=4, colors='#111111')
legend_at(ax6r, [lcf, lcny2], ['CFETS人民币汇率指数', '人民币兑美元即期汇率（右）'], 578, 958,
          handlelength=3.4, labelspacing=0.45)
put(521, 863, '（2014年12月31日=100）')
put(734, 883, '1月2-8日')
put(814, 883, '12月24-1日')
put(541, 898, '人民币CFETS汇率指数')
put(691, 898, '周环比')
put(750, 898, '1.1%', fontsize=10)
put(832, 898, '-0.4%', fontsize=10)
put(561, 917, '人民币兑美元汇率')
put(691, 917, '周环比')
put(747, 917, '0.3%', fontsize=10)
put(834, 917, '0.0%', fontsize=10)
ax6.annotate('', xy=(fx(712), fy(1028)), xytext=(fx(712), fy(995)), xycoords='figure fraction',
             textcoords='figure fraction',
             arrowprops=dict(arrowstyle='->', lw=1.6, color='black', mutation_scale=16))
put(726, 1010, '往下为人民币贬值')

fig.savefig('out.png', dpi=100)
